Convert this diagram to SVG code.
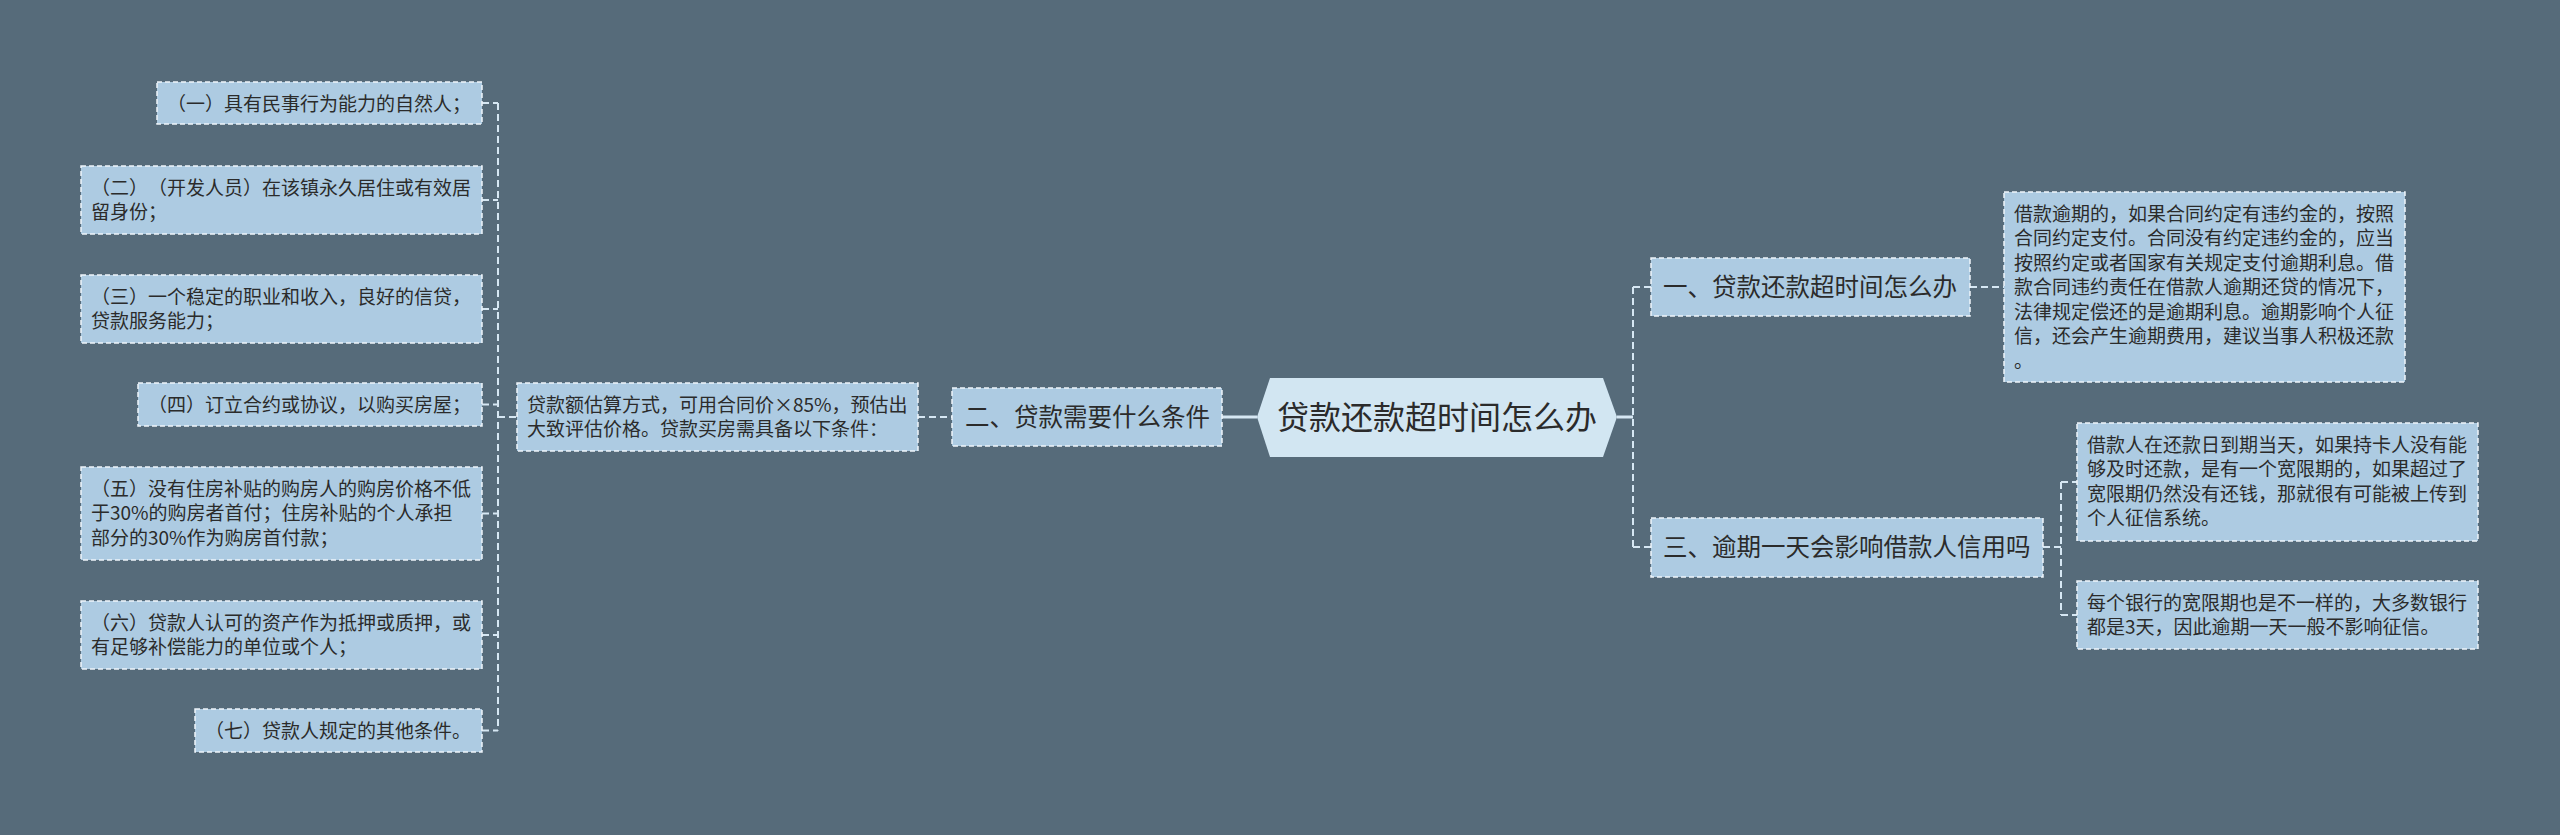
<svg xmlns="http://www.w3.org/2000/svg" width="2560" height="835" viewBox="0 0 2560 835">
<style>
text{text-spacing-trim:space-all;font-kerning:none}
.box{fill:#adcbe2;stroke:#eef5fa;stroke-width:1.5;stroke-dasharray:5 3}
.t{font-family:"Noto Sans CJK SC","Microsoft YaHei",sans-serif;font-size:19px;fill:#2b2b2b}
.h{font-family:"Noto Sans CJK SC","Microsoft YaHei",sans-serif;font-size:24.5px;fill:#2b2b2b}
.c{font-family:"Noto Sans CJK SC","Microsoft YaHei",sans-serif;font-size:32px;fill:#2b2b2b}
.dl{fill:none;stroke:#d6e7f3;stroke-width:2;stroke-dasharray:7 4}
.sl{fill:none;stroke:#d6e7f3;stroke-width:3}
</style>
<rect x="0" y="0" width="2560" height="835" fill="#566b7a"/>
<g id="connectors">
<path class="sl" d="M1222 417 H1257"/>
<path class="sl" d="M1617 417 H1633"/>
<path class="dl" d="M1633 287 V547"/>
<path class="dl" d="M1633 287 H1651"/>
<path class="dl" d="M1633 547 H1651"/>
<path class="dl" d="M1970 287 H2004"/>
<path class="dl" d="M2043 547 H2061"/>
<path class="dl" d="M2061 482 V615"/>
<path class="dl" d="M2061 482 H2077"/>
<path class="dl" d="M2061 615 H2077"/>
<path class="dl" d="M918 417 H952"/>
<path class="dl" d="M498 417 H517"/>
<path class="dl" d="M498 103 V730.5"/>
<path class="dl" d="M482 103 H498"/>
<path class="dl" d="M482 200 H498"/>
<path class="dl" d="M482 309 H498"/>
<path class="dl" d="M482 404.5 H498"/>
<path class="dl" d="M482 513.5 H498"/>
<path class="dl" d="M482 635 H498"/>
<path class="dl" d="M482 730.5 H498"/>
</g>
<g id="center">
<polygon points="1257,417 1270,378 1603,378 1617,417 1603,457 1270,457" fill="#d2e6f2"/>
<text class="c" x="1437" y="429" text-anchor="middle">贷款还款超时间怎么办</text>
</g>
<g id="n2">
<rect class="box" x="952" y="388" width="270" height="58"/>
<text class="h" x="965" y="426">二、贷款需要什么条件</text>
</g>
<g id="n1">
<rect class="box" x="1651" y="258" width="319" height="58"/>
<text class="h" x="1663" y="296">一、贷款还款超时间怎么办</text>
</g>
<g id="n3">
<rect class="box" x="1651" y="518" width="392" height="59"/>
<text class="h" x="1663" y="556">三、逾期一天会影响借款人信用吗</text>
</g>
<g id="n2a">
<rect class="box" x="517" y="383" width="401" height="68"/>
<text class="t" x="527" y="411.5">贷款额估算方式，可用合同价×85%，预估出</text>
<text class="t" x="527" y="436">大致评估价格。贷款买房需具备以下条件：</text>
</g>
<g id="l1">
<rect class="box" x="157" y="82" width="325" height="42"/>
<text class="t" x="167" y="110.5">（一）具有民事行为能力的自然人；</text>
</g>
<g id="l2">
<rect class="box" x="81" y="166" width="401" height="68"/>
<text class="t" x="91" y="194.5">（二）（开发人员）在该镇永久居住或有效居</text>
<text class="t" x="91" y="219">留身份；</text>
</g>
<g id="l3">
<rect class="box" x="81" y="275" width="401" height="68"/>
<text class="t" x="91" y="303.5">（三）一个稳定的职业和收入，良好的信贷，</text>
<text class="t" x="91" y="328">贷款服务能力；</text>
</g>
<g id="l4">
<rect class="box" x="138" y="383" width="344" height="43"/>
<text class="t" x="148" y="411.5">（四）订立合约或协议，以购买房屋；</text>
</g>
<g id="l5">
<rect class="box" x="81" y="467" width="401" height="93"/>
<text class="t" x="91" y="495.5">（五）没有住房补贴的购房人的购房价格不低</text>
<text class="t" x="91" y="520">于30%的购房者首付；住房补贴的个人承担</text>
<text class="t" x="91" y="544.5">部分的30%作为购房首付款；</text>
</g>
<g id="l6">
<rect class="box" x="81" y="601" width="401" height="68"/>
<text class="t" x="91" y="629.5">（六）贷款人认可的资产作为抵押或质押，或</text>
<text class="t" x="91" y="654">有足够补偿能力的单位或个人；</text>
</g>
<g id="l7">
<rect class="box" x="195" y="709" width="287" height="43"/>
<text class="t" x="205" y="737.5">（七）贷款人规定的其他条件。</text>
</g>
<g id="r1">
<rect class="box" x="2004" y="192" width="401" height="190"/>
<text class="t" x="2014" y="220.5">借款逾期的，如果合同约定有违约金的，按照</text>
<text class="t" x="2014" y="245">合同约定支付。合同没有约定违约金的，应当</text>
<text class="t" x="2014" y="269.5">按照约定或者国家有关规定支付逾期利息。借</text>
<text class="t" x="2014" y="294">款合同违约责任在借款人逾期还贷的情况下，</text>
<text class="t" x="2014" y="318.5">法律规定偿还的是逾期利息。逾期影响个人征</text>
<text class="t" x="2014" y="343">信，还会产生逾期费用，建议当事人积极还款</text>
<text class="t" x="2014" y="367.5">。</text>
</g>
<g id="r2">
<rect class="box" x="2077" y="423" width="401" height="118"/>
<text class="t" x="2087" y="451.5">借款人在还款日到期当天，如果持卡人没有能</text>
<text class="t" x="2087" y="476">够及时还款，是有一个宽限期的，如果超过了</text>
<text class="t" x="2087" y="500.5">宽限期仍然没有还钱，那就很有可能被上传到</text>
<text class="t" x="2087" y="525">个人征信系统。</text>
</g>
<g id="r3">
<rect class="box" x="2077" y="581" width="401" height="68"/>
<text class="t" x="2087" y="609.5">每个银行的宽限期也是不一样的，大多数银行</text>
<text class="t" x="2087" y="634">都是3天，因此逾期一天一般不影响征信。</text>
</g>
</svg>
